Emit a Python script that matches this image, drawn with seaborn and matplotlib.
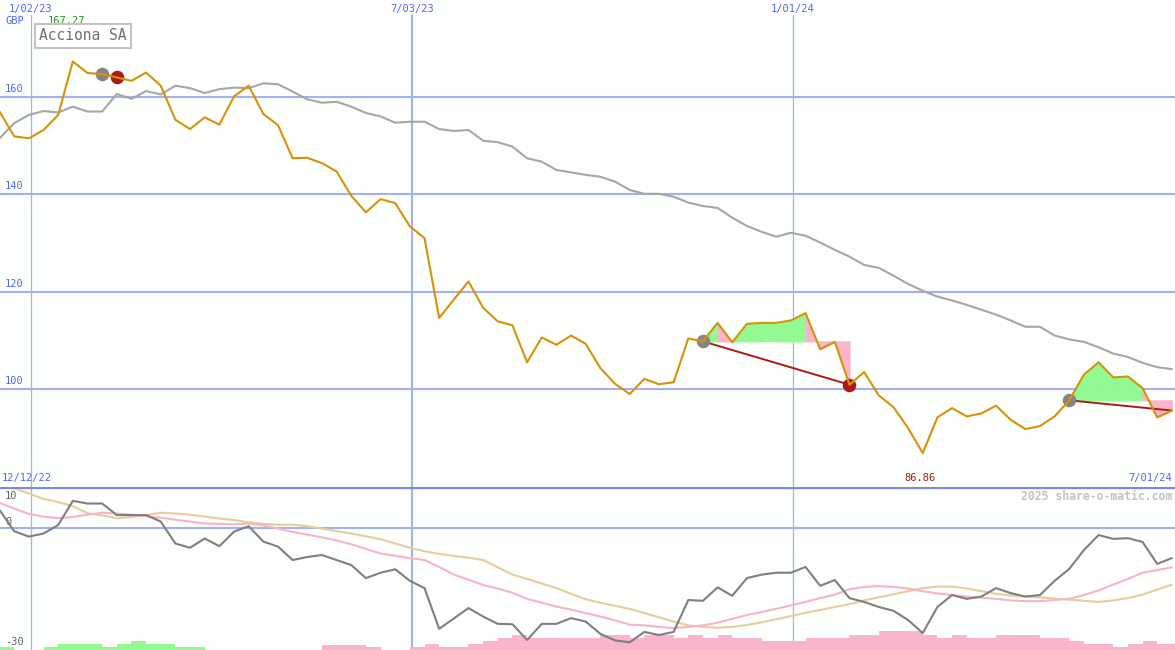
import numpy as np
import pandas as pd
import seaborn as sns
import matplotlib
matplotlib.use("Agg")
import matplotlib.pyplot as plt
import matplotlib.dates as mdates

# weekly closes, Acciona SA (GBP)
weeks = pd.date_range("2022-12-18", periods=81, freq="7D")
close = [157.0, 151.9, 151.5, 153.2, 156.3, 167.27, 164.9, 164.7, 164.0, 163.3,
         165.0, 162.3, 155.3, 153.4, 155.8, 154.3, 160.1, 162.3, 156.5, 154.2,
         147.4, 147.5, 146.4, 144.7, 139.7, 136.3, 139.0, 138.2, 133.4, 131.0,
         114.6, 118.4, 122.1, 116.7, 113.9, 113.1, 105.5, 110.6, 109.1, 111.0,
         109.3, 104.3, 101.1, 99.0, 102.1, 101.0, 101.4, 110.4, 109.8, 113.6,
         109.6, 113.4, 113.6, 113.6, 114.1, 115.6, 108.2, 109.7, 100.9, 103.5,
         98.7, 96.3, 92.0, 86.86, 94.2, 96.1, 94.4, 95.0, 96.6, 93.7,
         91.8, 92.4, 94.4, 97.7, 103.0, 105.5, 102.4, 102.6, 100.2, 94.2,
         95.6]
# moving average (grey)
mavg = [151.5, 154.6, 156.3, 157.1, 156.8, 158.0, 157.0, 157.0, 160.6, 159.6,
        161.2, 160.5, 162.3, 161.8, 160.8, 161.6, 161.9, 161.8, 162.8, 162.6,
        161.1, 159.5, 158.8, 159.0, 158.0, 156.7, 156.0, 154.7, 154.9, 154.9,
        153.4, 153.0, 153.2, 151.0, 150.7, 149.8, 147.4, 146.7, 145.0, 144.5,
        144.0, 143.6, 142.6, 140.9, 140.1, 140.1, 139.5, 138.3, 137.6, 137.2,
        135.2, 133.5, 132.3, 131.3, 132.1, 131.5, 130.1, 128.6, 127.2, 125.5,
        124.9, 123.3, 121.6, 120.2, 119.0, 118.2, 117.3, 116.3, 115.3, 114.1,
        112.8, 112.8, 111.0, 110.2, 109.7, 108.6, 107.3, 106.6, 105.4, 104.5,
        104.1]

# lower panel oscillators
momentum = [4.6, -0.9, -2.3, -1.5, 0.7, 7.0, 6.3, 6.3, 3.3, 3.3,
            3.3, 1.6, -4.1, -5.2, -2.8, -4.8, -1.0, 0.4, -3.6, -4.9,
            -8.4, -7.6, -7.1, -8.4, -9.7, -13.1, -11.7, -10.8, -13.8, -15.7,
            -26.3, -23.6, -20.9, -23.1, -25.0, -25.1, -29.2, -25.0, -25.0, -23.5,
            -24.4, -27.6, -29.3, -29.8, -27.1, -27.9, -27.1, -18.8, -19.0, -15.5,
            -17.7, -13.1, -12.2, -11.7, -11.7, -10.2, -15.1, -13.6, -18.3, -19.3,
            -20.6, -21.6, -24.0, -27.4, -20.6, -17.5, -18.5, -17.9, -15.7, -17.0,
            -17.9, -17.5, -13.8, -10.7, -5.8, -1.9, -2.9, -2.7, -3.7, -9.4,
            -7.9]
fast_avg = [6.5, 5.0, 3.6, 2.9, 2.5, 2.8, 3.4, 3.9, 3.7, 3.4,
            3.0, 2.6, 2.1, 1.6, 1.1, 1.0, 0.9, 1.1, 0.6, -0.2,
            -1.1, -1.8, -2.5, -3.3, -4.3, -5.5, -6.7, -7.3, -7.9, -8.4,
            -10.2, -12.2, -13.5, -14.9, -15.8, -16.9, -18.5, -19.5, -20.5, -21.3,
            -22.2, -23.1, -24.1, -25.2, -25.4, -25.8, -26.1, -25.8, -25.4, -24.7,
            -23.7, -22.7, -21.9, -21.1, -20.2, -19.3, -18.3, -17.4, -16.0, -15.4,
            -15.2, -15.4, -15.8, -16.5, -17.1, -17.5, -17.9, -18.2, -18.5, -18.9,
            -19.1, -19.1, -18.8, -18.5, -17.5, -16.3, -14.8, -13.3, -11.7, -11.0,
            -10.3]
slow_avg = [11.9, 10.3, 8.9, 7.5, 6.7, 5.6, 3.8, 3.2, 2.5, 2.8,
            3.3, 3.9, 3.7, 3.4, 2.9, 2.4, 2.0, 1.4, 1.0, 0.8,
            0.8, 0.4, -0.2, -0.9, -1.5, -2.2, -3.0, -4.1, -5.2, -6.1,
            -6.8, -7.3, -7.8, -8.4, -10.3, -12.2, -13.3, -14.5, -15.7, -17.2,
            -18.6, -19.5, -20.3, -21.1, -22.2, -23.3, -24.4, -25.4, -25.8, -26.0,
            -25.8, -25.3, -24.6, -23.8, -23.0, -22.1, -21.4, -20.6, -19.9, -18.9,
            -18.1, -17.3, -16.5, -15.7, -15.3, -15.3, -15.8, -16.5, -17.2, -17.6,
            -17.9, -18.1, -18.4, -18.7, -19.0, -19.3, -18.9, -18.3, -17.4, -16.1,
            -14.8]
signal = [0.8, 0, 0, 0.8, 1.6, 1.6, 1.6, 0.8, 1.6, 2.3,
          1.6, 1.6, 0.8, 0.8, 0, 0, 0, 0, 0, 0,
          0, 0, -1.3, -1.3, -1.3, -0.8, 0, 0, -0.8, -1.6,
          -0.8, -0.8, -1.6, -2.3, -3.1, -3.9, -3.1, -3.1, -3.1, -3.1,
          -3.1, -3.9, -3.9, -3.1, -3.9, -3.9, -3.1, -3.9, -3.1, -3.9,
          -3.1, -3.1, -2.3, -2.3, -2.3, -3.1, -3.1, -3.1, -3.9, -3.9,
          -4.9, -4.9, -4.9, -3.9, -3.1, -3.9, -3.1, -3.1, -3.9, -3.9,
          -3.9, -3.1, -3.1, -2.3, -1.6, -1.6, -0.8, -1.6, -2.3, -1.6,
          -1.6]

# trades: entry week, exit week (last one still open)
trade_entry = [7, 48, 73]
trade_exit = [8, 58, 80]
trade_closed = [True, True, False]
pink_segments = [7, 49, 55, 56, 57, 78, 79]

grid_dates = ["2023-01-02", "2023-07-03", "2024-01-01"]
grid_labels = ["1/02/23", "7/03/23", "1/01/24"]
price_ticks = [160, 140, 120, 100]
osc_ticks = ["10", "0", "-30"]

BG = "#fcfffc"
BLUE = "#a3b1f0"
TXT_BLUE = "#5566ee"
ORANGE = "#d8920a"
GREEN = "#93f993"
PINK = "#f9b5ca"
RED = "#a81c1c"

sns.set_style("white")
plt.rcParams["font.family"] = ["DejaVu Sans Mono", "DejaVu Sans"]

x = mdates.date2num(weeks)
gx = mdates.date2num(pd.to_datetime(grid_dates))
xlim = mdates.date2num(pd.to_datetime(["2022-12-18 05:00", "2024-07-01 12:00"]))

fig = plt.figure(figsize=(11.75, 6.5), dpi=100)
fig.patch.set_facecolor(BG)
ax = fig.add_axes([0, 163 / 650, 1, 487 / 650])
ax2 = fig.add_axes([0, 0, 1, 163 / 650])
for a in (ax, ax2):
    a.set_facecolor(BG)
    for s in a.spines.values():
        s.set_visible(False)
    a.set_xticks([])
    a.set_yticks([])
    a.set_xlim(xlim)
ax.set_ylim(79.9, 179.9)
ax2.set_ylim(-31.8, 10.6)

# grid
for v in price_ticks:
    ax.axhline(v, color=BLUE, lw=1.5, zorder=1)
    ax.text(5 / 1175, v + 0.6, str(v), transform=ax.get_yaxis_transform(),
            color=TXT_BLUE, fontsize=7.5, va="bottom", ha="left")
for gxi, lab, w in zip(gx, grid_labels, [0.9, 1.5, 0.9]):
    ax.axvline(gxi, ymax=1 - 15 / 487, color=BLUE, lw=w, zorder=1)
    ax2.axvline(gxi, color=BLUE, lw=w, zorder=1)
    ax.text(gxi, 1 - 9 / 487, lab, transform=ax.get_xaxis_transform(),
            color=TXT_BLUE, fontsize=7.5, ha="center", va="center")
ax2.axhline(0, color=BLUE, lw=1.5, zorder=1)
ax2.axhline(10.35, color="#7a88ea", lw=1.6, zorder=5)

# trades
close_a = np.array(close)
for s, e, closed in zip(trade_entry, trade_exit, trade_closed):
    entry = close_a[s]
    for i in range(s, e):
        col = PINK if i in pink_segments else GREEN
        ax.fill_between(x[i:i + 2], close_a[i:i + 2], entry, facecolor=col,
                        edgecolor=col, lw=0.8, zorder=2)
    ax.plot([x[s], x[e]], [entry, close_a[e]], color=RED, lw=1.4, zorder=3)
    ax.scatter([x[s]], [entry], s=95, color="#858585", lw=0, zorder=3)
    if closed:
        ax.scatter([x[e]], [close_a[e]], s=95, color=RED, lw=0, zorder=3)

sns.lineplot(x=x, y=mavg, ax=ax, color="#a6a6a6", lw=1.5, zorder=3)
sns.lineplot(x=x, y=close, ax=ax, color=ORANGE, lw=1.5, zorder=4)

imax = int(np.argmax(close_a))
imin = int(np.argmin(close_a))
ax.text(x[imax] - 3, 1 - 21 / 487, f"{close_a[imax]:.2f}", transform=ax.get_xaxis_transform(),
        color="#1e9a1e", fontsize=7.5, ha="center", va="center")
ax.text(x[imin] - 1.5, 9 / 487, f"{close_a[imin]:.2f}", transform=ax.get_xaxis_transform(),
        color="#9a1a1a", fontsize=7.5, ha="center", va="center")
ax.text(5 / 1175, 1 - 21 / 487, "GBP", transform=ax.transAxes,
        color=TXT_BLUE, fontsize=7.5, ha="left", va="center")
ax.text(2 / 1175, 9 / 487, "12/12/22", transform=ax.transAxes,
        color=TXT_BLUE, fontsize=7.5, ha="left", va="center")
ax.text(1172 / 1175, 9 / 487, "7/01/24", transform=ax.transAxes,
        color=TXT_BLUE, fontsize=7.5, ha="right", va="center")
ax.text(39 / 1175, 1 - 36 / 487, "Acciona SA", transform=ax.transAxes,
        color="#707070", fontsize=10.5, ha="left", va="center",
        bbox=dict(boxstyle="square,pad=0.3", fc="white", ec="#c4c4c4", lw=1.5))

# lower panel
sig = np.array(signal)
ax2.bar(x, np.abs(sig), width=7, align="edge", bottom=-31.8,
        color=[GREEN if v > 0 else PINK for v in sig], lw=0, zorder=2)
sns.lineplot(x=x, y=slow_avg, ax=ax2, color="#e4cda0", lw=1.5, zorder=3)
sns.lineplot(x=x, y=fast_avg, ax=ax2, color="#f8b3c8", lw=1.5, zorder=3)
sns.lineplot(x=x, y=momentum, ax=ax2, color="#7f7f7f", lw=1.5, zorder=4)
for lab, py in zip(osc_ticks, [496, 522, 642]):
    ax2.text(5 / 1175, 1 - (py - 487) / 163, lab, transform=ax2.transAxes,
             color="#606060", fontsize=7.5, ha="left", va="center")
ax2.text(1172 / 1175, 1 - 9 / 163, "2025 share-o-matic.com", transform=ax2.transAxes,
         color="#c4c4c4", fontsize=8.3, fontweight="bold", ha="right", va="center")

plt.savefig("out.png", dpi=100, facecolor=BG)
